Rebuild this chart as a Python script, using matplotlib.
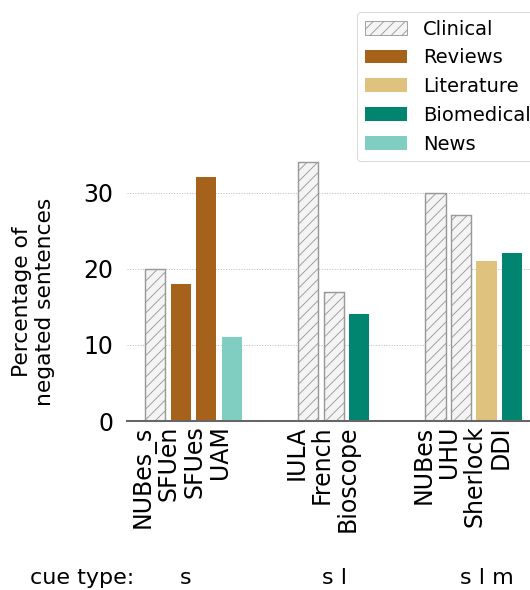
import matplotlib.pyplot as plt
from matplotlib.patches import Patch

# Data
datasets = ["NUBes_s", "SFUen", "SFUes", "UAM",
            "IULA", "French", "Bioscope",
            "NUBes", "UHU", "Sherlock", "DDI"]
positions = [0, 1, 2, 3, 6, 7, 8, 11, 12, 13, 14]
percent_negated = [20, 18, 32, 11, 34, 17, 14, 30, 27, 21, 22]
domains = ["Clinical", "Reviews", "Reviews", "News",
           "Clinical", "Clinical", "Biomedical",
           "Clinical", "Clinical", "Literature", "Biomedical"]
cue_types = ["s", "s l", "s l m"]
cue_type_x = [1.2, 7.05, 13.0]

domain_order = ["Clinical", "Reviews", "Literature", "Biomedical", "News"]
domain_colors = {
    "Clinical": "#f4f4f4",
    "Reviews": "#a6611a",
    "Literature": "#dfc27d",
    "Biomedical": "#018571",
    "News": "#80cdc1",
}

DPI = 64
k = 100 / DPI  # font scale, sizes below were picked for 100 dpi

fig = plt.figure(figsize=(530 / DPI, 590 / DPI), dpi=DPI)
ax = fig.add_axes([0.24, 0.2864, 0.76, 0.71])

for x, v, d in zip(positions, percent_negated, domains):
    if d == "Clinical":
        ax.bar(x, v, width=0.8, color=domain_colors[d], edgecolor="#999999",
               hatch="//", linewidth=1.6)
    else:
        ax.bar(x, v, width=0.8, color=domain_colors[d], linewidth=0)

ax.set_xlim(-1.1, 14.7)
ax.set_ylim(0, 55)
ax.set_yticks([0, 10, 20, 30])
ax.set_xticks(positions)
ax.set_xticklabels(datasets, rotation=90, ha="right", fontsize=17 * k)
ax.tick_params(axis="y", labelsize=17 * k, length=0, pad=10 * k)
ax.tick_params(axis="x", length=0, pad=5)
ax.set_ylabel("Percentage of\nnegated sentences", fontsize=15.7 * k)
ax.yaxis.set_label_coords(-0.179, 0.284)

for s in ["top", "right", "left"]:
    ax.spines[s].set_visible(False)
ax.spines["bottom"].set_color("#666666")
ax.spines["bottom"].set_linewidth(2.3)

ax.yaxis.grid(True, linestyle=":", color="#bbbbbb", linewidth=1.1)
ax.set_axisbelow(True)

handles = []
for d in domain_order:
    if d == "Clinical":
        handles.append(Patch(facecolor=domain_colors[d], edgecolor="#999999",
                             hatch="//", label=d))
    else:
        handles.append(Patch(facecolor=domain_colors[d], label=d))
leg = ax.legend(handles=handles, loc="upper right", fontsize=14 * k,
                bbox_to_anchor=(1.045, 1.0), handlelength=2.2, frameon=True)
leg.get_frame().set_edgecolor("#cccccc")

# cue type row under the axis
fig.text(30 / 530, 1 - 578 / 590, "cue type:", fontsize=16 * k, va="center")
for lab, xx in zip(cue_types, cue_type_x):
    ax.text(xx, -(578 - 421) / (0.71 * 590), lab, fontsize=16 * k,
            ha="center", va="center", transform=ax.get_xaxis_transform(),
            clip_on=False)

fig.savefig("out.png", dpi=DPI)
